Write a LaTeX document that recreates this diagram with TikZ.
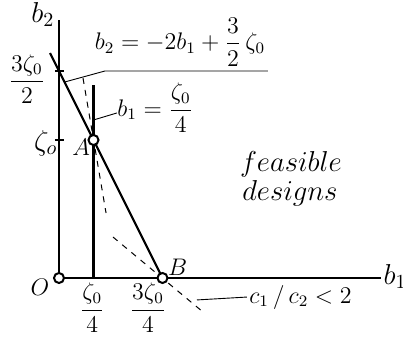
\documentclass[tikz,border=0pt]{standalone}
\usepackage{amsmath}
\usetikzlibrary{positioning}
\begin{document}
\begin{tikzpicture}[x=69pt,y=69pt,font=\large,
    axis/.style={line width=0.65pt},
    bound/.style={line width=1.1pt},
    slope/.style={dashed, line width=0.5pt},
    leader/.style={line width=0.45pt},
    dot/.style={circle, draw, fill=white, line width=1pt, inner sep=0pt, minimum size=5pt}]
        \useasboundingbox (-0.4275,-0.4275) rectangle (2.4928,2.0145);
        % points
        \coordinate (O) at (0,0);
        \coordinate (B) at (0.75,0);
        \coordinate (A) at (0.25,1);
        \coordinate (ytop) at (0,1.87);
        \coordinate (xend) at (2.33,0);
        \coordinate (lntop) at (-0.065,1.63);
        \coordinate (vtop) at (0.25,1.40);
        \coordinate (vfoot) at (0.25,0);
        \coordinate (tickA) at (0,1);
        \coordinate (tickB) at (0,1.5);
        % axes
        \draw[axis] (O) -- (ytop);
        \draw[axis] (O) -- (xend);
        \draw[axis] (tickA) ++(-2pt,0) -- ++(4.5pt,0);
        \draw[axis] (tickB) ++(-2pt,0) -- ++(4.5pt,0);
        \node[anchor=base east, inner sep=0pt, font=\Large] (lb2) at (-0.03,1.855) {$b_2$};
        \node[anchor=base west, inner sep=0pt, font=\Large] (lb1) at (2.35,-0.045) {$b_1$};
        % constraint lines
        \draw[bound] (lntop) -- (B);
        \draw[bound] (vfoot) -- (vtop);
        \draw[slope] (0.174,1.449) -- (0.341,0.471);
        \draw[slope] (0.391,0.297) -- (1.043,-0.246);
        % leaders
        \coordinate (k1) at (0.04,1.42);
        \coordinate (k2) at (0.333,1.5);
        \coordinate (k3) at (1.514,1.5);
        \draw[leader] (k1) -- (k2) -- (k3);
        \node (eq1) at (0.877,1.71) {$b_2 = -2b_1 + \dfrac{3}{2}\,\zeta_0$};
        \coordinate (m1) at (0.25,1.145);
        \node[anchor=west, inner sep=0pt] (eq2) at (0.42,1.232) {$b_1 = \dfrac{\zeta_0}{4}$};
        \draw[leader] (m1) -- (0.42,1.196);
        \coordinate (n1) at (1.0,-0.159);
        \node[anchor=west, inner sep=1pt] (ratio) at (1.362,-0.138) {$c_1\,/\,c_2 < 2$};
        \draw[leader] (n1) -- (ratio.west);
        % axis labels
        \node[anchor=east, inner sep=0pt, font=\Large] (z0) at (-0.01,0.975) {$\zeta_o$};
        \node (z32) at (-0.232,1.44) {$\dfrac{3\zeta_0}{2}$};
        \node (z14) at (0.241,-0.217) {$\dfrac{\zeta_0}{4}$};
        \node (z34) at (0.645,-0.217) {$\dfrac{3\zeta_0}{4}$};
        % points
        \node[dot] (nO) at (O) {};
        \node[dot] (nA) at (A) {};
        \node[dot] (nB) at (B) {};
        \node (lO) at (-0.138,-0.065) {$O$};
        \node (lA) at (0.16,0.95) {$A$};
        \node (lB) at (0.86,0.08) {$B$};
        \node[anchor=base, inner sep=0pt, font=\Large] (feas) at (1.681,0.77) {$feasible$};
        \node[anchor=base, inner sep=0pt, font=\Large] (desg) at (1.674,0.56) {$designs$};
    \end{tikzpicture}
\end{document}
